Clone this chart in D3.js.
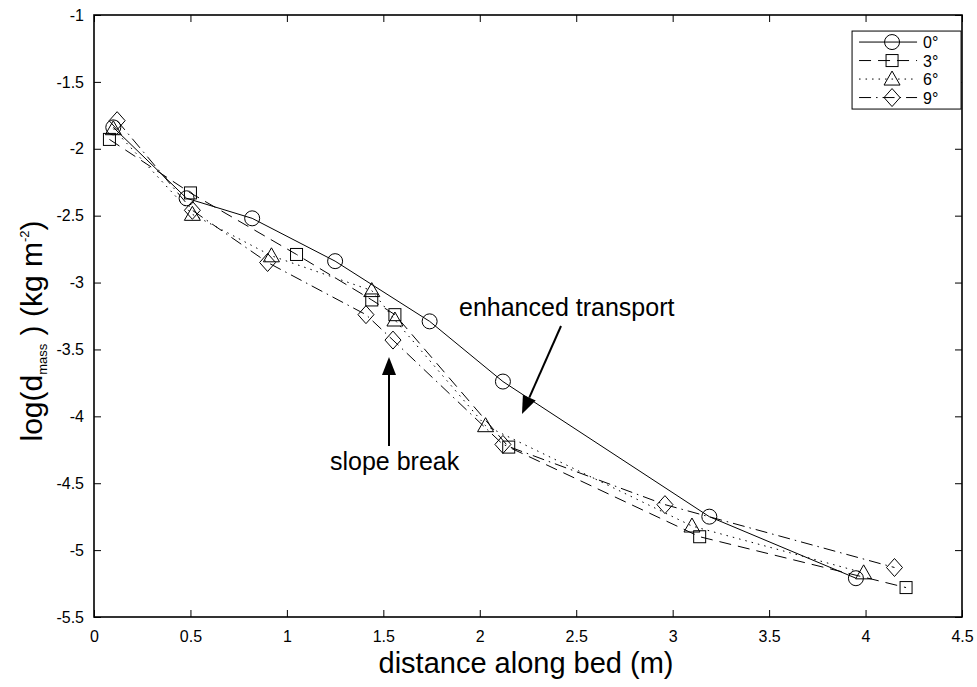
<!DOCTYPE html>
<html>
<head>
<meta charset="utf-8">
<script src="https://cdn.jsdelivr.net/npm/d3@7"></script>
<style>
  body { margin: 0; background: #fff; }
  text { font-family: "Liberation Sans", Arial, sans-serif; fill: #000; }
</style>
</head>
<body>
<div class="fig"></div>
<script>
// series: distance along bed (m) and log(d_mass)
var dist0 = [0.10, 0.48, 0.82, 1.25, 1.74, 2.12, 3.19, 3.95];
var val0  = [-1.84, -2.37, -2.52, -2.84, -3.29, -3.74, -4.75, -5.21];
var dist3 = [0.08, 0.50, 1.05, 1.44, 1.56, 2.15, 3.14, 4.21];
var val3  = [-1.93, -2.33, -2.79, -3.13, -3.24, -4.23, -4.90, -5.28];
var dist6 = [0.10, 0.51, 0.92, 1.44, 1.56, 2.03, 3.10, 3.99];
var val6  = [-1.85, -2.49, -2.80, -3.06, -3.28, -4.07, -4.82, -5.17];
var dist9 = [0.12, 0.51, 0.90, 1.41, 1.55, 2.12, 2.96, 4.15];
var val9  = [-1.79, -2.46, -2.85, -3.24, -3.43, -4.21, -4.66, -5.13];

var seriesNames = ["0°", "3°", "6°", "9°"];
var xTicks = [0, 0.5, 1, 1.5, 2, 2.5, 3, 3.5, 4, 4.5];
var yTicks = [-1, -1.5, -2, -2.5, -3, -3.5, -4, -4.5, -5, -5.5];

var series = [
  {name: seriesNames[0], xs: dist0, ys: val0, dash: null, sym: "circle"},
  {name: seriesNames[1], xs: dist3, ys: val3, dash: "12,7", sym: "square"},
  {name: seriesNames[2], xs: dist6, ys: val6, dash: "1.5,5", sym: "triangle"},
  {name: seriesNames[3], xs: dist9, ys: val9, dash: "12,5,1.5,5", sym: "diamond"}
];

var margin = {top: 15, right: 15, bottom: 70, left: 94};
var svgWidth = 977, svgHeight = 687;
var width = svgWidth - margin.left - margin.right;   // 868
var height = svgHeight - margin.top - margin.bottom;  // 602

var xScale = d3.scaleLinear().domain([0, 4.5]).range([0, width]);
var yScale = d3.scaleLinear().domain([-5.5, -1]).range([height, 0]);

var svg = d3.select(".fig").append("svg")
  .attr("width", svgWidth)
  .attr("height", svgHeight);

var g = svg.append("g")
  .attr("transform", "translate(" + margin.left + "," + margin.top + ")");

// plain hyphen labels like the original
var fmt = d => String(d);

// axes with inward ticks on all four sides
var xAxis = g.append("g")
  .attr("transform", "translate(0," + height + ")")
  .call(d3.axisBottom(xScale).tickValues(xTicks).tickSize(-7).tickPadding(14).tickFormat(fmt));
var xTop = g.append("g")
  .call(d3.axisTop(xScale).tickValues(xTicks).tickSize(-7).tickFormat(""));
var yAxis = g.append("g")
  .call(d3.axisLeft(yScale).tickValues(yTicks).tickSize(-7).tickPadding(10).tickFormat(fmt));
var yRight = g.append("g")
  .attr("transform", "translate(" + width + ",0)")
  .call(d3.axisRight(yScale).tickValues(yTicks).tickSize(-7).tickFormat(""));

[xAxis, xTop, yAxis, yRight].forEach(function(a) {
  a.select(".domain").remove();
  a.selectAll(".tick line").attr("stroke", "#000").attr("stroke-width", 1);
  a.selectAll(".tick text").attr("font-size", 16)
    .attr("font-family", "'Liberation Sans', Arial, sans-serif");
});

// box around the plot
g.append("rect")
  .attr("x", 0).attr("y", 0)
  .attr("width", width).attr("height", height)
  .attr("fill", "none").attr("stroke", "#000").attr("stroke-width", 1.6);

var line = d3.line()
  .x(d => xScale(d[0]))
  .y(d => yScale(d[1]));

function drawMarker(sel, sym) {
  if (sym == "circle") {
    sel.append("circle").attr("r", 7.5);
  } else if (sym == "square") {
    sel.append("rect").attr("x", -6).attr("y", -6).attr("width", 12).attr("height", 12);
  } else if (sym == "triangle") {
    sel.append("path").attr("d", "M0,-8L8,6L-8,6Z");
  } else {
    sel.append("path").attr("d", "M0,-9L8,0L0,9L-8,0Z");
  }
  sel.selectAll("*").attr("fill", "none").attr("stroke", "#000").attr("stroke-width", 1);
}

series.forEach(function(s) {
  var pts = s.xs.map((x, i) => [x, s.ys[i]]);
  g.append("path")
    .datum(pts)
    .attr("d", line)
    .attr("fill", "none")
    .attr("stroke", "#000")
    .attr("stroke-width", 1)
    .attr("stroke-dasharray", s.dash);

  g.selectAll(null)
    .data(pts)
    .enter()
    .append("g")
    .attr("transform", d => "translate(" + xScale(d[0]) + "," + yScale(d[1]) + ")")
    .each(function() { drawMarker(d3.select(this), s.sym); });
});

// legend
var lx = xScale(3.93), ly = yScale(-1.12);
var legend = g.append("g").attr("transform", "translate(" + lx + "," + ly + ")");
legend.append("rect")
  .attr("width", 109).attr("height", 78)
  .attr("fill", "#fff").attr("stroke", "#000").attr("stroke-width", 1);
series.forEach(function(s, i) {
  var row = legend.append("g").attr("transform", "translate(0," + (11 + i * 18.5) + ")");
  row.append("line")
    .attr("x1", 7).attr("x2", 65).attr("y1", 0).attr("y2", 0)
    .attr("stroke", "#000").attr("stroke-width", 1)
    .attr("stroke-dasharray", s.dash);
  var m = row.append("g").attr("transform", "translate(40,0)");
  drawMarker(m, s.sym);
  row.append("text")
    .attr("x", 71).attr("y", 6)
    .attr("font-size", 16)
    .text(s.name);
});

// annotations
var ann = svg.append("g");
ann.append("text")
  .attr("x", 459).attr("y", 316)
  .attr("font-size", 25)
  .text("enhanced transport");
ann.append("text")
  .attr("x", 330).attr("y", 470)
  .attr("font-size", 25)
  .text("slope break");

function arrow(x1, y1, x2, y2) {
  var ang = Math.atan2(y2 - y1, x2 - x1);
  var len = 18, w = 7;
  var bx = x2 - len * Math.cos(ang), by = y2 - len * Math.sin(ang);
  ann.append("line")
    .attr("x1", x1).attr("y1", y1).attr("x2", bx).attr("y2", by)
    .attr("stroke", "#000").attr("stroke-width", 2);
  var px = -Math.sin(ang) * w, py = Math.cos(ang) * w;
  ann.append("path")
    .attr("d", "M" + x2 + "," + y2 + "L" + (bx + px) + "," + (by + py) + "L" + (bx - px) + "," + (by - py) + "Z")
    .attr("fill", "#000");
}
arrow(561, 326, 522, 414);
arrow(389, 446, 389, 357);

// axis titles
svg.append("text")
  .attr("x", margin.left + width / 2 - 2)
  .attr("y", 673)
  .attr("text-anchor", "middle")
  .attr("font-size", 29)
  .text("distance along bed (m)");

var yl = svg.append("text")
  .attr("transform", "translate(42,331) rotate(-90)")
  .attr("text-anchor", "middle")
  .attr("font-size", 30);
yl.append("tspan").text("log(d");
yl.append("tspan").attr("font-size", 13).attr("dy", 5).text("mass");
yl.append("tspan").attr("dy", -5).text(" ) (kg m");
yl.append("tspan").attr("font-size", 13).attr("dy", -13).text("-2");
yl.append("tspan").attr("dy", 13).text(")");
</script>
</body>
</html>
